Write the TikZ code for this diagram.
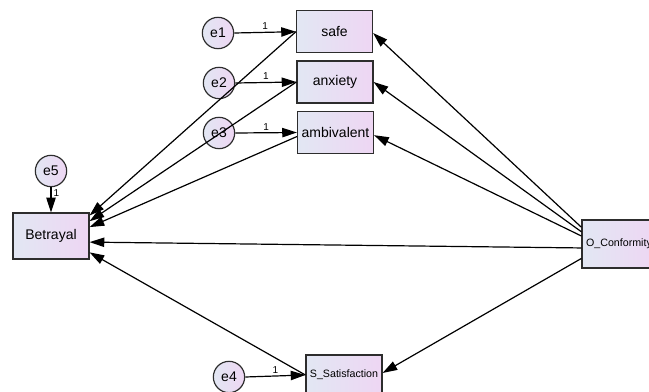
\documentclass[tikz,border=0pt]{standalone}
\usepackage{fontspec}
\setmainfont{Liberation Sans}
\usetikzlibrary{arrows.meta,positioning}

\definecolor{boxleft}{RGB}{226,231,243}
\definecolor{boxright}{RGB}{238,214,243}
\definecolor{boxline}{RGB}{45,45,45}

\begin{document}
\begin{tikzpicture}[
    x=0.75pt, y=-0.75pt,
    box/.style={rectangle, draw=boxline, line width=0.9pt, left color=boxleft, right color=boxright, minimum width=57pt, minimum height=31.5pt, inner sep=1pt, font=\fontsize{10.5}{12}\selectfont},
    smallbox/.style={box, font=\fontsize{8}{10}\selectfont},
    err/.style={circle, draw=boxline, line width=0.9pt, left color=boxleft, right color=boxright, minimum size=23.5pt, inner sep=0pt, font=\fontsize{10.5}{12}\selectfont},
    arrow/.style={-{Triangle[length=11pt,width=7pt]}, line width=0.9pt, draw=black},
    one/.style={font=\fontsize{7.5}{8}\selectfont, inner sep=1.5pt}
]
\useasboundingbox (0,0) rectangle (649,392);
\clip (0,0) rectangle (649,392);

% Middle: indicators
\node[box] (safe) at (334.5,31.7) {safe};
\node[box] (anxiety) at (335,82) {anxiety};
\node[box] (ambivalent) at (335.5,132.5) {ambivalent};

% Errors
\node[err] (e1) at (218,33) {e1};
\node[err] (e2) at (219,83) {e2};
\node[err] (e3) at (219,133) {e3};
\node[err] (e5) at (51,171) {e5};
\node[err] (e4) at (229,377) {e4};

% Left: outcome
\node[box] (betrayal) at (51,236) [minimum height=34.5pt] {Betrayal};

% Right and bottom
\node[smallbox] (conformity) at (619,244) [minimum width=55.5pt, minimum height=36pt] {O\_Conformity};
\node[smallbox] (satisfaction) at (344,375) [minimum height=30pt] {S\_Satisfaction};

% Error paths
\draw[arrow] (e1.east) -- (safe.west) node[one, midway, above] {1};
\draw[arrow] (e2.east) -- (anxiety.west) node[one, midway, above] {1};
\draw[arrow] (e3.east) -- (ambivalent.west) node[one, midway, above] {1};
\draw[arrow] (e4.east) -- (satisfaction.west) node[one, midway, above] {1};
\draw[arrow] (e5.south) -- (betrayal.north) node[one, pos=0.25, right] {1};

% Indicators to Betrayal
\draw[arrow] (safe.west) -- (betrayal.28);
\draw[arrow] (anxiety.west) -- (betrayal.21);
\draw[arrow] (ambivalent.186) -- (betrayal.13);
\draw[arrow] (satisfaction.west) -- (betrayal.-23);

% From O_Conformity
\draw[arrow] (conformity.156) -- (safe.-2);
\draw[arrow] (conformity.162) -- (anxiety.east);
\draw[arrow] (conformity.168) -- (ambivalent.-4);
\draw[arrow] (conformity.186) -- (betrayal.-9);
\draw[arrow] (conformity.201) -- (satisfaction.3);

\end{tikzpicture}
\end{document}
